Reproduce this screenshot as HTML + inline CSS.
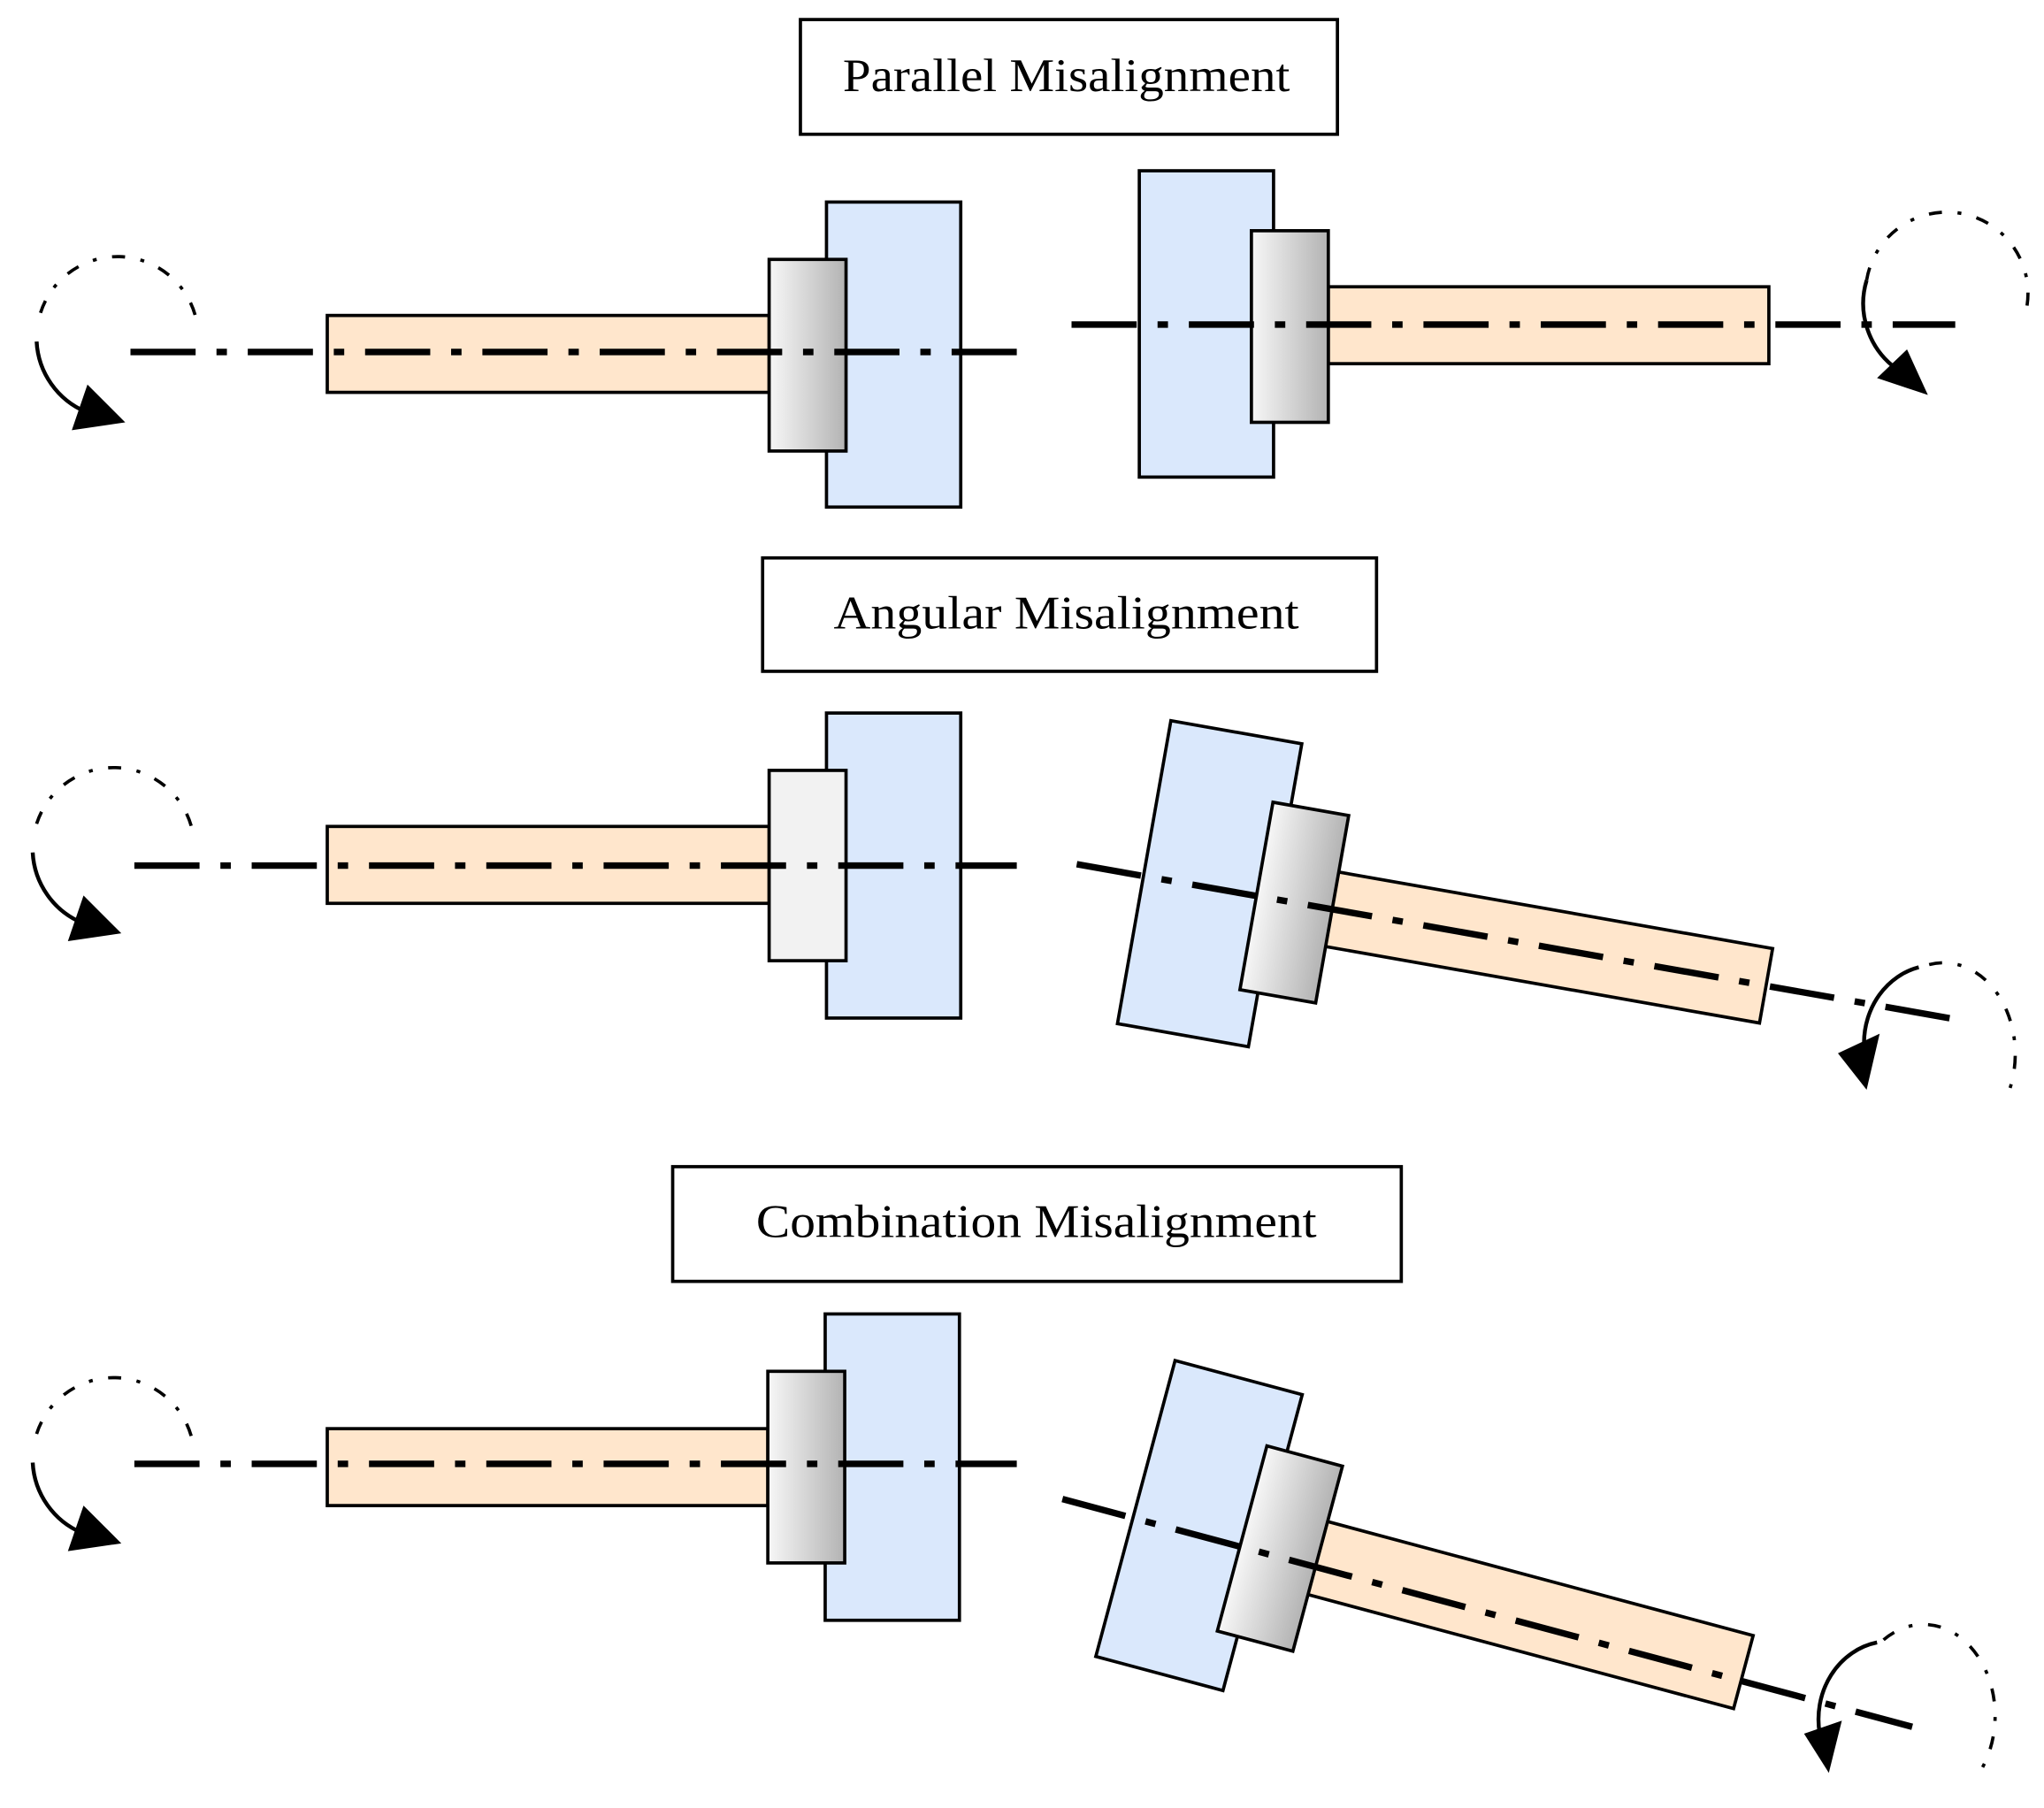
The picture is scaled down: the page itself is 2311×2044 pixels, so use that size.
<!DOCTYPE html>
<html><head><meta charset="utf-8"><style>html,body{margin:0;padding:0;background:#fff}svg{display:block}</style></head>
<body>
<svg width="2311" height="2044" viewBox="0 0 1568 1387" xmlns="http://www.w3.org/2000/svg">
<defs>
<linearGradient id="g" x1="0" x2="1" y1="0" y2="0"><stop offset="0" stop-color="#f7f7f7"/><stop offset="1" stop-color="#b3b3b3"/></linearGradient>
<g id="rotL">
  <path d="M31,240 A62,62 0 0 1 150,243" fill="none" stroke="#000" stroke-width="2.5" stroke-dasharray="10,12,3,12"/>
  <path d="M28,262 A62,62 0 0 0 66,316" fill="none" stroke="#000" stroke-width="3"/>
  <polygon points="55,330 96,324 67,295" fill="#000"/>
</g>
</defs>
<g font-family="'Liberation Serif', serif" font-size="36" text-anchor="middle">
<rect x="614" y="15" width="412" height="88" fill="#fff" stroke="#000" stroke-width="2.5"/>
<text x="818" y="70" textLength="343" lengthAdjust="spacingAndGlyphs">Parallel Misalignment</text>
<rect x="585" y="428" width="471" height="87" fill="#fff" stroke="#000" stroke-width="2.5"/>
<text x="818" y="482" textLength="357" lengthAdjust="spacingAndGlyphs">Angular Misalignment</text>
<rect x="516" y="895" width="559" height="88" fill="#fff" stroke="#000" stroke-width="2.5"/>
<text x="795" y="949" textLength="430" lengthAdjust="spacingAndGlyphs">Combination Misalignment</text>
</g>
<g stroke="#000" stroke-width="2.5">
<rect x="251" y="242" width="339" height="59" fill="#ffe6cc"/>
<rect x="634" y="155" width="103" height="234" fill="#dae8fc"/>
<rect x="590" y="199" width="59" height="147" fill="url(#g)"/>
<rect x="874" y="131" width="103" height="235" fill="#dae8fc"/>
<rect x="1019" y="220" width="338" height="59" fill="#ffe6cc"/>
<rect x="960" y="177" width="59" height="147" fill="url(#g)"/>
<rect x="251" y="634" width="339" height="59" fill="#ffe6cc"/>
<rect x="634" y="547" width="103" height="234" fill="#dae8fc"/>
<rect x="590" y="591" width="59" height="146" fill="#f2f2f2"/>
<rect x="251" y="1096" width="338" height="59" fill="#ffe6cc"/>
<rect x="633" y="1008" width="103" height="235" fill="#dae8fc"/>
<rect x="589" y="1052" width="59" height="147" fill="url(#g)"/>
</g>
<g stroke="#000" stroke-width="5" fill="none" stroke-dasharray="50,16,8,16">
<line x1="100" y1="270" x2="780" y2="270"/>
<line x1="822" y1="249" x2="1500" y2="249"/>
<line x1="103" y1="664" x2="780" y2="664"/>
<line x1="103" y1="1123" x2="780" y2="1123"/>
</g>
<g transform="rotate(10 826 663)">
<g stroke="#000" stroke-width="2.5">
<rect x="878" y="542" width="102" height="236" fill="#dae8fc"/>
<rect x="1010" y="634" width="353" height="58" fill="#ffe6cc"/>
<rect x="966" y="590" width="59" height="146" fill="url(#g)"/>
</g>
<line x1="826" y1="663" x2="1506" y2="663" stroke="#000" stroke-width="5" stroke-dasharray="50,16,8,16"/>
</g>
<g transform="rotate(15 815 1150)">
<g stroke="#000" stroke-width="2.5">
<rect x="871" y="1025" width="101" height="235" fill="#dae8fc"/>
<rect x="1000" y="1114" width="354" height="58" fill="#ffe6cc"/>
<rect x="956" y="1070" width="60" height="147" fill="url(#g)"/>
</g>
<line x1="815" y1="1150" x2="1490" y2="1150" stroke="#000" stroke-width="5" stroke-dasharray="50,16,8,16"/>
</g>
<use href="#rotL"/>
<use href="#rotL" transform="translate(-3,392)"/>
<use href="#rotL" transform="translate(-3,860)"/>
<g>
<path d="M1432,215 A62,62 0 0 1 1555,235" fill="none" stroke="#000" stroke-width="2.5" stroke-dasharray="10,12,3,12"/>
<path d="M1432,215 A62,62 0 0 0 1455,283" fill="none" stroke="#000" stroke-width="3"/>
<polygon points="1440,290 1479,303 1463,268" fill="#000"/>
</g>
<g>
<path d="M1480,740 A55,70 0 0 1 1538,845" fill="none" stroke="#000" stroke-width="2.5" stroke-dasharray="10,12,3,12"/>
<path d="M1472,742 A55,60 0 0 0 1430,800" fill="none" stroke="#000" stroke-width="3"/>
<polygon points="1410,808 1432,836 1442,793" fill="#000"/>
</g>
<g>
<path d="M1445,1258 A55,70 0 0 1 1515,1365" fill="none" stroke="#000" stroke-width="2.5" stroke-dasharray="10,12,3,12"/>
<path d="M1440,1260 A55,60 0 0 0 1396,1330" fill="none" stroke="#000" stroke-width="3"/>
<polygon points="1384,1330 1403,1360 1413,1320" fill="#000"/>
</g>
</svg>
</body></html>
